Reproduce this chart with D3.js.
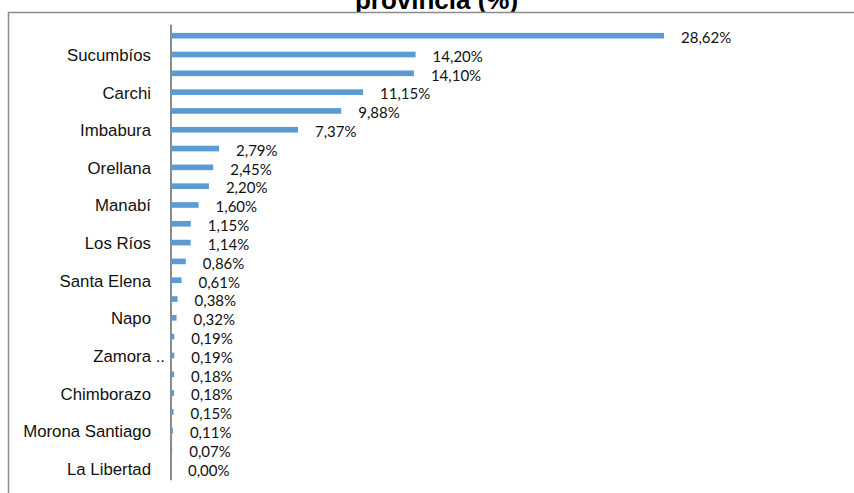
<!DOCTYPE html>
<html>
<head>
<meta charset="utf-8">
<script src="https://cdn.jsdelivr.net/npm/d3@7/dist/d3.min.js"></script>
<style>
  html, body { margin: 0; padding: 0; background: #fff; }
  svg { display: block; }
</style>
</head>
<body>
<svg id="chart" width="854" height="493"></svg>
<script>
// Share by province (%), one bar per province, largest first.
const values = [28.62, 14.20, 14.10, 11.15, 9.88, 7.37, 2.79, 2.45, 2.20, 1.60, 1.15, 1.14,
                0.86, 0.61, 0.38, 0.32, 0.19, 0.19, 0.18, 0.18, 0.15, 0.11, 0.07, 0.00];
// Category labels on the axis (every second bar is labelled).
const labels = ["", "Sucumbíos", "", "Carchi", "", "Imbabura", "", "Orellana", "", "Manabí",
                "", "Los Ríos", "", "Santa Elena", "", "Napo", "", "Zamora ..", "", "Chimborazo",
                "", "Morona Santiago", "", "La Libertad"];
const titleText = "provincia (%)";

const fmt = v => v.toFixed(2).replace(".", ",") + "%";

const svg = d3.select("#chart");

// Title (upper part runs off the top edge)
svg.append("text")
  .attr("x", 436.5).attr("y", 9)
  .attr("text-anchor", "middle")
  .style("font-family", "'Liberation Sans', Arial, sans-serif")
  .style("font-weight", "bold")
  .style("font-size", "26px")
  .attr("fill", "#000")
  .text(titleText);

// Chart frame
svg.append("rect")
  .attr("x", 8.5).attr("y", 12.5)
  .attr("width", 900).attr("height", 520)
  .attr("fill", "#fff")
  .attr("stroke", "#8c8c8c")
  .attr("stroke-width", 1.5);

const x = d3.scaleLinear().domain([0, 30]).range([171, 171 + 30 * 17.226]);
const y = d3.scaleBand().domain(d3.range(values.length)).range([26.3, 477.7])
  .paddingInner(0.7).paddingOuter(0.35);

// Bars
svg.append("g").selectAll("rect").data(values).join("rect")
  .attr("x", x(0) + 1)
  .attr("y", (d, i) => y(i))
  .attr("height", y.bandwidth())
  .attr("width", d => Math.max(0, x(d) - x(0) - 1))
  .attr("fill", "#5b9bd5");

// Value labels
svg.append("g").selectAll("text").data(values).join("text")
  .attr("x", d => x(d) + 17)
  .attr("y", (d, i) => y(i) + y.bandwidth() / 2 + 7.3)
  .style("font-family", "Lato, 'Open Sans', sans-serif")
  .style("font-size", "15px")
  .attr("fill", "#111")
  .text(d => fmt(d));

// Category axis
const axis = d3.axisLeft(y).tickSize(0).tickFormat("");
const gAxis = svg.append("g").attr("transform", `translate(${x(0)},0)`).call(axis);
gAxis.select(".domain").remove();
gAxis.append("line")
  .attr("x1", 0).attr("x2", 0)
  .attr("y1", y.range()[0] - 1.5).attr("y2", y.range()[1] + 2.5)
  .attr("stroke", "#8c8c8c").attr("stroke-width", 2);

// Labels are right-aligned; a truncation mark " .." hangs past the alignment edge.
const labelEnd = 151;
const gLab = svg.append("g")
  .style("font-family", "'Liberation Sans', Arial, sans-serif")
  .style("font-size", "16.8px")
  .attr("fill", "#111");
labels.forEach((lab, i) => {
  if (!lab) return;
  const cy = y(i) + y.bandwidth() / 2 + 6.5;
  const m = lab.match(/^(.*?) (\.\.)$/);
  const main = m ? m[1] : lab;
  gLab.append("text").attr("x", labelEnd).attr("y", cy)
    .attr("text-anchor", "end").text(main);
  if (m) {
    gLab.append("text").attr("x", labelEnd).attr("y", cy)
      .attr("text-anchor", "start").text("\u00a0" + m[2]);
  }
});
</script>
</body>
</html>
